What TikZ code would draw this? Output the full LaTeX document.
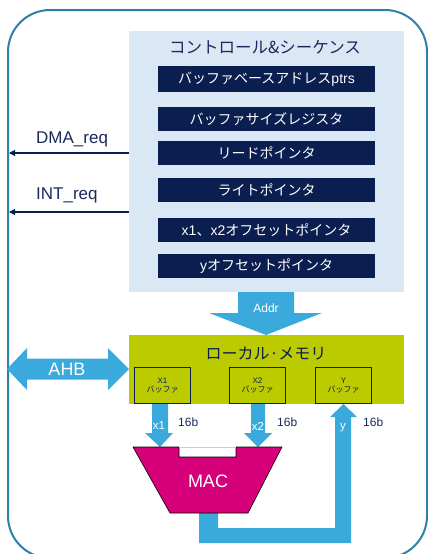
\documentclass[tikz,border=0pt]{standalone}
\usepackage{fontspec}
\setmainfont{Liberation Sans}
\newfontfamily\cjk{Noto Sans CJK JP}
\usetikzlibrary{arrows.meta}
\definecolor{outerc}{HTML}{2E80A8}
\definecolor{ctrlfill}{HTML}{DAE8F5}
\definecolor{navy}{HTML}{0A1E4F}
\definecolor{arrowblue}{HTML}{3AAADC}
\definecolor{olive}{HTML}{BCCB00}
\definecolor{magenta}{HTML}{D6007A}
\definecolor{labelnavy}{HTML}{1B2A5B}
\tikzset{
  darkbox/.style={fill=navy, text=white, inner sep=0pt, minimum width=217pt, minimum height=24pt, font=\fontsize{14}{16}\selectfont},
  bufbox/.style={fill=olive, draw=navy, line width=1.3pt, minimum width=56pt, minimum height=36pt, inner sep=0pt, align=center, text=navy, font=\fontsize{8}{10}\selectfont},
  fatarrow/.style={fill=arrowblue, draw=none},
  sig/.style={draw=navy, line width=1.1pt, -{Triangle[length=6pt,width=6pt]}},
  siglabel/.style={text=labelnavy, font=\fontsize{17}{20}\selectfont, anchor=base west, inner sep=0pt},
  bitlabel/.style={text=labelnavy, font=\fontsize{12}{14}\selectfont, anchor=base west, inner sep=0pt},
  wlabel/.style={text=white, inner sep=0pt}
}
\begin{document}
\begin{tikzpicture}[x=1pt,y=-1pt]
\useasboundingbox (0,0) rectangle (428,554);
% outer frame
\draw[outerc, line width=2pt, rounded corners=42pt] (8,10) rectangle (427,558);
% control box
\node[fill=ctrlfill, minimum width=275pt, minimum height=261pt, inner sep=0pt] (ctrl) at (266.5,161.5) {};
\node[text=labelnavy, font=\fontsize{16.5}{19}\selectfont\cjk, inner sep=0pt] (ctitle) at (265,47.5) {コントロール\&シーケンス};
\node[darkbox, minimum height=26pt] (b1) at (266.5,79) {{\cjk バッファベースアドレス}ptrs};
\node[darkbox] (b2) at (266.5,119) {\cjk バッファサイズレジスタ};
\node[darkbox] (b3) at (266.5,153) {\cjk リードポインタ};
\node[darkbox] (b4) at (266.5,190) {\cjk ライトポインタ};
\node[darkbox] (b5) at (266.5,230) {x1{\cjk 、}x2{\cjk オフセットポインタ}};
\node[darkbox] (b6) at (266.5,266) {y{\cjk オフセットポインタ}};
% signals
\coordinate (dmaend) at (9,153);
\coordinate (intend) at (9,212);
\draw[sig] (ctrl.west |- dmaend) -- (dmaend);
\draw[sig] (ctrl.west |- intend) -- (intend);
\node[siglabel] (dmal) at (36,143) {DMA\_req};
\node[siglabel] (intl) at (36,199) {INT\_req};
% Addr arrow
\fill[fatarrow] (238,292) -- (294,292) -- (294,313) -- (322,313) -- (266,335) -- (209,313) -- (238,313) -- cycle;
\node[wlabel, font=\fontsize{12}{14}\selectfont] (addr) at (266,308) {Addr};
% local memory
\node[fill=olive, minimum width=275pt, minimum height=69pt, inner sep=0pt] (lmem) at (266.5,369.5) {};
\node[text=navy, font=\fontsize{16}{19}\selectfont\cjk, inner sep=0pt] (ltitle) at (266,353.5) {ローカル·メモリ};
\node[bufbox] (x1b) at (162.5,385.5) {X1\\[-1pt]{\cjk バッファ}};
\node[bufbox] (x2b) at (257.5,385.5) {X2\\[-1pt]{\cjk バッファ}};
\node[bufbox] (yb) at (343.5,385.5) {Y\\[-1pt]{\cjk バッファ}};
% AHB
\fill[fatarrow] (7,369) -- (27,348) -- (27,358.5) -- (108,358.5) -- (108,348) -- (129,369) -- (108,390) -- (108,379.5) -- (27,379.5) -- (27,390) -- cycle;
\node[wlabel, font=\fontsize{18}{21}\selectfont] (ahb) at (67,369) {AHB};
% x1, x2 arrows
\fill[fatarrow] (152,404) -- (168,404) -- (168,433) -- (173,433) -- (160,447) -- (145,433) -- (152,433) -- cycle;
\fill[fatarrow] (251,404) -- (265,404) -- (265,433) -- (272,433) -- (258,447) -- (244,433) -- (251,433) -- cycle;
\node[wlabel, font=\fontsize{11.5}{13}\selectfont] (x1l) at (159,426) {x1};
\node[wlabel, font=\fontsize{11.5}{13}\selectfont] (x2l) at (258,426) {x2};
\node[bitlabel] (bx1) at (178,426) {16b};
\node[bitlabel] (bx2) at (277,426) {16b};
% y return path
\fill[fatarrow] (199,510) -- (218,510) -- (218,528) -- (335,528) -- (335,417) -- (330,417) -- (343.5,404) -- (357,417) -- (351,417) -- (351,543) -- (199,543) -- cycle;
\node[wlabel, font=\fontsize{11.5}{13}\selectfont] (yl) at (343,428) {y};
\node[bitlabel] (by) at (363,426) {16b};
% MAC
\filldraw[fill=magenta, draw=black, line width=0.6pt] (133,447) -- (179,447) -- (179,457) -- (236,457) -- (236,447) -- (282,447) -- (248,513) -- (170,513) -- cycle;
\draw[black!20, line width=0.6pt] (179,447) -- (236,447);
\node[wlabel, font=\fontsize{18}{21}\selectfont] (mac) at (208,481) {MAC};
\end{tikzpicture}
\end{document}
